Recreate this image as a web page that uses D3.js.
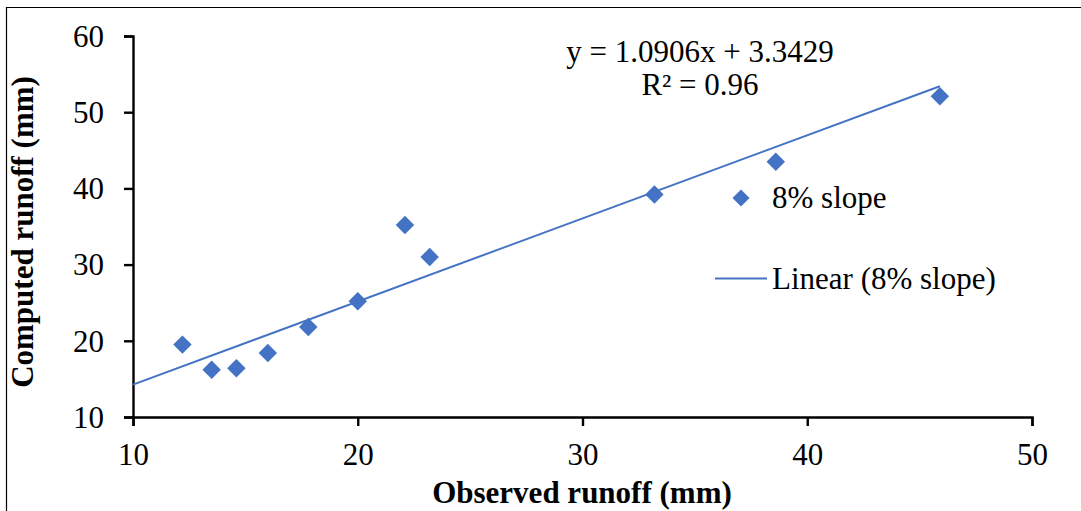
<!DOCTYPE html>
<html>
<head>
<meta charset="utf-8">
<script src="https://cdn.jsdelivr.net/npm/d3@7/dist/d3.min.js"></script>
<style>
  html, body { margin: 0; padding: 0; background: #fff; }
  svg { display: block; }
  text { font-family: "Liberation Serif", "Times New Roman", serif; fill: #000; }
</style>
</head>
<body>
<svg id="chart" width="1081" height="511"></svg>
<script>
// Observed vs computed runoff, 8% slope plot
const observed = [12.2, 13.5, 14.6, 16.0, 17.8, 20.0, 22.1, 23.2, 33.2, 38.6, 45.9];
const computed = [19.5, 16.2, 16.4, 18.4, 21.8, 25.2, 35.2, 31.0, 39.2, 43.5, 52.1];
const xTicks = [10, 20, 30, 40, 50];
const yTicks = [10, 20, 30, 40, 50, 60];
const slope = 1.0906, intercept = 3.3429, r2 = 0.96;
const seriesName = "8% slope";

const blue = "#4472C4";
const fontSize = "31px";
const svg = d3.select("#chart");

// outer frame (top and left edges)
svg.append("path")
  .attr("d", "M6.5,511 V7.5 H1081")
  .attr("fill", "none").attr("stroke", "#000").attr("stroke-width", 1.2);

const x = d3.scaleLinear().domain([10, 50]).range([133, 1032]);
const y = d3.scaleLinear().domain([10, 60]).range([417, 36]);

// axes
const xAxis = svg.append("g").attr("transform", `translate(0,${y(10)})`)
  .call(d3.axisBottom(x).tickValues(xTicks).tickSize(9));
const yAxis = svg.append("g").attr("transform", `translate(${x(10)},0)`)
  .call(d3.axisLeft(y).tickValues(yTicks).tickSize(9));

[xAxis, yAxis].forEach(g => {
  g.select(".domain").attr("stroke", "#000").attr("stroke-width", 2.4);
  g.selectAll(".tick line").attr("stroke", "#000").attr("stroke-width", 2.4);
  g.selectAll(".tick text")
    .style("font-family", '"Liberation Serif", "Times New Roman", serif')
    .style("font-size", fontSize).attr("fill", "#000");
});
xAxis.selectAll(".tick text").attr("y", 48).attr("dy", null);
yAxis.selectAll(".tick text").attr("x", -29).attr("dy", "0.33em");

// axis titles
svg.append("text")
  .attr("x", 582).attr("y", 503)
  .attr("text-anchor", "middle")
  .style("font-size", fontSize).style("font-weight", "bold")
  .text("Observed runoff (mm)");
svg.append("text")
  .attr("transform", "translate(33,232) rotate(-90)")
  .attr("text-anchor", "middle")
  .style("font-size", fontSize).style("font-weight", "bold")
  .text("Computed runoff (mm)");

// linear trendline
const trendX = [10, d3.max(observed)];
svg.append("path")
  .datum(trendX)
  .attr("fill", "none").attr("stroke", blue).attr("stroke-width", 2)
  .attr("d", d3.line().x(d => x(d)).y(d => y(slope * d + intercept)));

// data points as diamonds
const diamond = d3.symbol().type(d3.symbolSquare).size(170);
svg.append("g").selectAll("path")
  .data(observed.map((o, i) => [o, computed[i]]))
  .join("path")
  .attr("d", diamond)
  .attr("transform", d => `translate(${x(d[0])},${y(d[1])}) rotate(45)`)
  .attr("fill", blue);

// trendline equation
svg.append("text")
  .attr("x", 700).attr("y", 62).attr("text-anchor", "middle")
  .style("font-size", fontSize)
  .text(`y = ${slope}x + ${intercept}`);
svg.append("text")
  .attr("x", 700).attr("y", 95).attr("text-anchor", "middle")
  .style("font-size", fontSize)
  .text(`R² = ${r2}`);

// legend
const legend = svg.append("g");
legend.append("path")
  .attr("d", d3.symbol().type(d3.symbolSquare).size(145))
  .attr("transform", "translate(741,198) rotate(45)")
  .attr("fill", blue);
legend.append("text").attr("x", 772).attr("y", 208)
  .style("font-size", fontSize).text(seriesName);
legend.append("line")
  .attr("x1", 715).attr("x2", 767).attr("y1", 278.5).attr("y2", 278.5)
  .attr("stroke", blue).attr("stroke-width", 2);
legend.append("text").attr("x", 772).attr("y", 289)
  .style("font-size", fontSize).text(`Linear (${seriesName})`);
</script>
</body>
</html>
